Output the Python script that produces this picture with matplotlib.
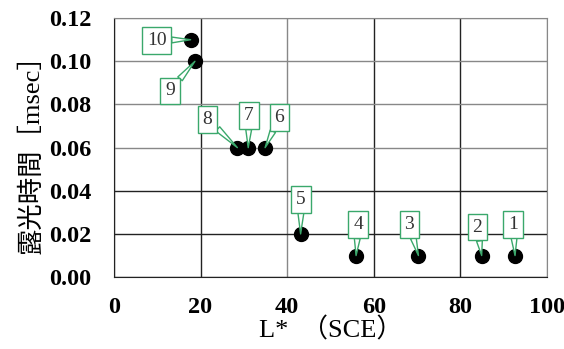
import numpy as np
import matplotlib.pyplot as plt

# data
L_sce = [92.6, 84.9, 70.3, 55.9, 43.1, 34.9, 31.0, 28.5, 18.7, 17.7]
exposure = [0.01, 0.01, 0.01, 0.01, 0.02, 0.06, 0.06, 0.06, 0.10, 0.11]
point_ids = ["1", "2", "3", "4", "5", "6", "7", "8", "9", "10"]
label_x = [92.2, 83.9, 68.2, 56.4, 43.2, 38.2, 31.2, 21.6, 12.9, 9.85]
label_y = [0.0245, 0.0232, 0.0245, 0.0243, 0.036, 0.074, 0.0748, 0.0732, 0.0863, 0.1098]

serif = ['Liberation Serif', 'Noto Sans CJK JP']
green = '#3aa86b'

fig = plt.figure(figsize=(5.64, 3.49), dpi=100)
ax = fig.add_axes([0.202, 0.206, 0.768, 0.742])

ax.plot(L_sce, exposure, 'o', color='black', markersize=10, zorder=3)

for i in range(len(L_sce)):
    ax.annotate(point_ids[i], xy=(L_sce[i], exposure[i]), xytext=(label_x[i], label_y[i]),
                ha='center', va='center', fontsize=14, family=serif, color='#333333',
                bbox=dict(boxstyle='square,pad=0.25', fc='white', ec=green, lw=1),
                arrowprops=dict(arrowstyle='wedge,tail_width=0.3,shrink_factor=0.5',
                                fc='white', ec=green, lw=1, shrinkA=0, shrinkB=0),
                zorder=4)

ax.set_xlim(0, 100)
ax.set_ylim(0, 0.12)
ax.set_xticks(np.arange(0, 101, 20))
ax.set_yticks(np.arange(0, 0.121, 0.02))
ax.set_yticklabels(["%.2f" % v for v in np.arange(0, 0.121, 0.02)])
ax.tick_params(axis='y', length=0, pad=16)
ax.tick_params(axis='x', length=0, pad=14)
for lab in ax.get_xticklabels() + ax.get_yticklabels():
    lab.set_fontfamily(serif)
    lab.set_fontweight('bold')
    lab.set_fontsize(17.5)

ax.grid(True, color='#222222', lw=1)
ax.set_axisbelow(True)
for g in [ax.get_xgridlines()[2], ax.get_xgridlines()[5]]:
    g.set_color('#888888')
for k in [3, 4, 5, 6]:
    ax.get_ygridlines()[k].set_color('#888888')
for s in ax.spines.values():
    s.set_color('#888888')
ax.spines['left'].set_color('#222222')
ax.spines['bottom'].set_color('#222222')

ax.set_xlabel("L*  （SCE）", family=serif, fontsize=19, labelpad=0)
ax.set_ylabel("露光時間［msec］", family=serif, fontsize=19, labelpad=4)

plt.savefig("out.png", dpi=100)
plt.close()
